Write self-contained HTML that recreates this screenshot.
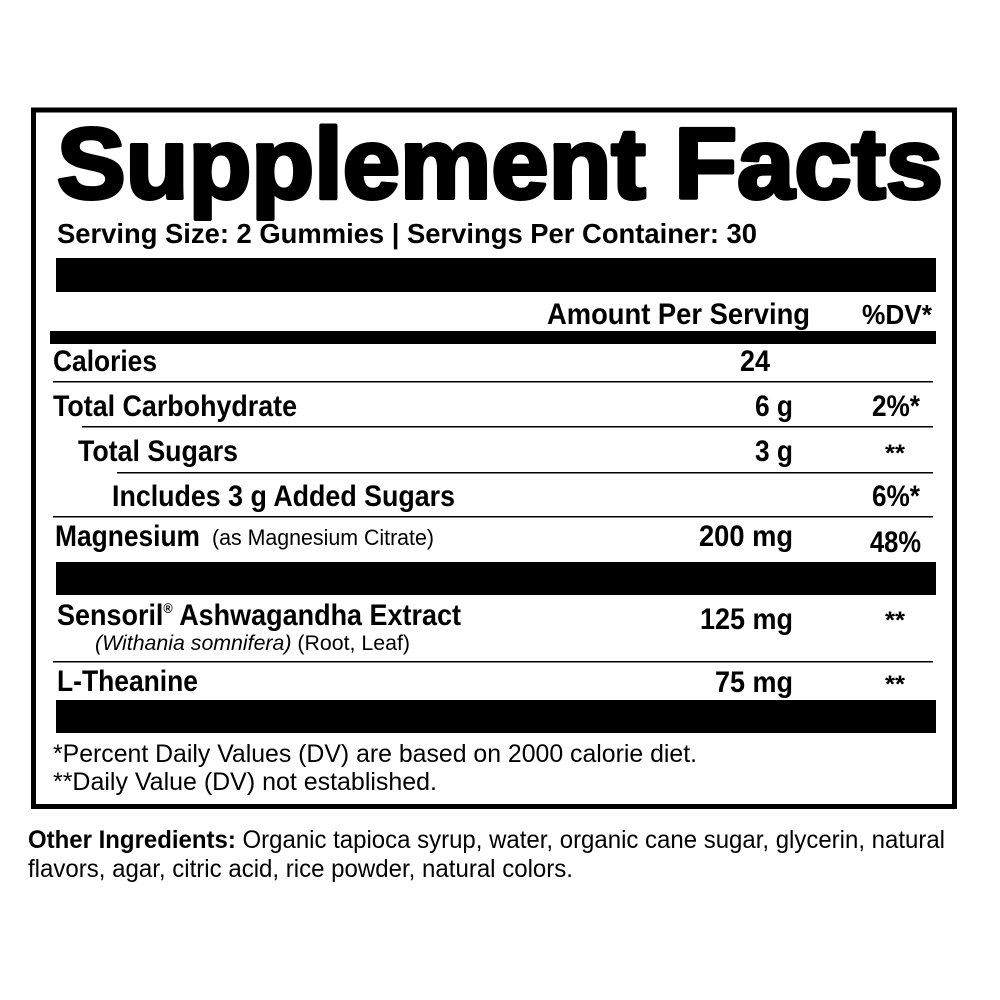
<!DOCTYPE html>
<html><head><meta charset="utf-8"><style>
html,body{margin:0;padding:0;background:#fff;width:1000px;height:1000px;overflow:hidden}
svg{display:block}
text{font-family:"Liberation Sans",Arial,sans-serif;fill:#000}
.b{font-weight:bold}
</style></head><body>
<svg width="1000" height="1000" viewBox="0 0 1000 1000" xmlns="http://www.w3.org/2000/svg">
<rect x="33.5" y="110" width="921" height="696.5" fill="none" stroke="#000" stroke-width="5"/>
<text class="b" x="57" y="198" font-size="100" stroke="#000" stroke-width="4" stroke-linejoin="round" textLength="886" lengthAdjust="spacingAndGlyphs">Supplement Facts</text>
<text class="b" x="57" y="243" font-size="28" textLength="700" lengthAdjust="spacingAndGlyphs">Serving Size: 2 Gummies | Servings Per Container: 30</text>
<rect x="56" y="258" width="880" height="34" fill="#000"/>
<text class="b" x="547" y="324" font-size="30" textLength="263" lengthAdjust="spacingAndGlyphs">Amount Per Serving</text>
<text class="b" x="862" y="324" font-size="28" textLength="70" lengthAdjust="spacingAndGlyphs">%DV*</text>
<rect x="50" y="331" width="886" height="13" fill="#000"/>
<text class="b" x="53" y="371" font-size="30" textLength="104" lengthAdjust="spacingAndGlyphs">Calories</text>
<text class="b" x="740" y="371" font-size="30" textLength="30" lengthAdjust="spacingAndGlyphs">24</text>
<rect x="53" y="381" width="880" height="1.5" fill="#000"/>
<text class="b" x="53" y="416" font-size="30" textLength="244" lengthAdjust="spacingAndGlyphs">Total Carbohydrate</text>
<text class="b" x="755" y="416" font-size="30" textLength="38" lengthAdjust="spacingAndGlyphs">6 g</text>
<text class="b" x="872" y="416" font-size="30" textLength="48" lengthAdjust="spacingAndGlyphs">2%*</text>
<rect x="82" y="426" width="851" height="1.5" fill="#000"/>
<text class="b" x="78" y="461" font-size="30" textLength="160" lengthAdjust="spacingAndGlyphs">Total Sugars</text>
<text class="b" x="755" y="461" font-size="30" textLength="38" lengthAdjust="spacingAndGlyphs">3 g</text>
<text class="b" x="885" y="461" font-size="24" textLength="20" lengthAdjust="spacingAndGlyphs">**</text>
<rect x="117" y="472" width="816" height="1.5" fill="#000"/>
<text class="b" x="112" y="506" font-size="30" textLength="343" lengthAdjust="spacingAndGlyphs">Includes 3 g Added Sugars</text>
<text class="b" x="872" y="506" font-size="30" textLength="48" lengthAdjust="spacingAndGlyphs">6%*</text>
<rect x="53" y="516" width="880" height="1.5" fill="#000"/>
<text class="b" x="55" y="546" font-size="30" textLength="145" lengthAdjust="spacingAndGlyphs">Magnesium</text>
<text x="212" y="545" font-size="22" textLength="222" lengthAdjust="spacingAndGlyphs">(as Magnesium Citrate)</text>
<text class="b" x="699" y="546" font-size="30" textLength="94" lengthAdjust="spacingAndGlyphs">200 mg</text>
<text class="b" x="870" y="552" font-size="30" textLength="51" lengthAdjust="spacingAndGlyphs">48%</text>
<rect x="56" y="562" width="880" height="33" fill="#000"/>
<text class="b" x="57" y="625" font-size="30" textLength="404" lengthAdjust="spacingAndGlyphs"><tspan>Sensoril</tspan><tspan font-size="14" dy="-12">®</tspan><tspan dy="12"> Ashwagandha Extract</tspan></text>
<text x="95" y="650" font-size="21" textLength="315" lengthAdjust="spacingAndGlyphs"><tspan font-style="italic">(Withania somnifera)</tspan> (Root, Leaf)</text>
<text class="b" x="700" y="629" font-size="30" textLength="93" lengthAdjust="spacingAndGlyphs">125 mg</text>
<text class="b" x="885" y="628" font-size="24" textLength="20" lengthAdjust="spacingAndGlyphs">**</text>
<rect x="53" y="661" width="880" height="1.5" fill="#000"/>
<text class="b" x="57" y="691" font-size="30" textLength="141" lengthAdjust="spacingAndGlyphs">L-Theanine</text>
<text class="b" x="715" y="692" font-size="30" textLength="78" lengthAdjust="spacingAndGlyphs">75 mg</text>
<text class="b" x="885" y="692" font-size="24" textLength="20" lengthAdjust="spacingAndGlyphs">**</text>
<rect x="56" y="700" width="880" height="33" fill="#000"/>
<text x="53" y="762" font-size="25" textLength="644" lengthAdjust="spacingAndGlyphs">*Percent Daily Values (DV) are based on 2000 calorie diet.</text>
<text x="53" y="790" font-size="25" textLength="384" lengthAdjust="spacingAndGlyphs">**Daily Value (DV) not established.</text>
<text x="28" y="848" font-size="25" textLength="917" lengthAdjust="spacingAndGlyphs"><tspan font-weight="bold">Other Ingredients:</tspan> Organic tapioca syrup, water, organic cane sugar, glycerin, natural</text>
<text x="28" y="877" font-size="25" textLength="545" lengthAdjust="spacingAndGlyphs">flavors, agar, citric acid, rice powder, natural colors.</text>
</svg>
</body></html>
